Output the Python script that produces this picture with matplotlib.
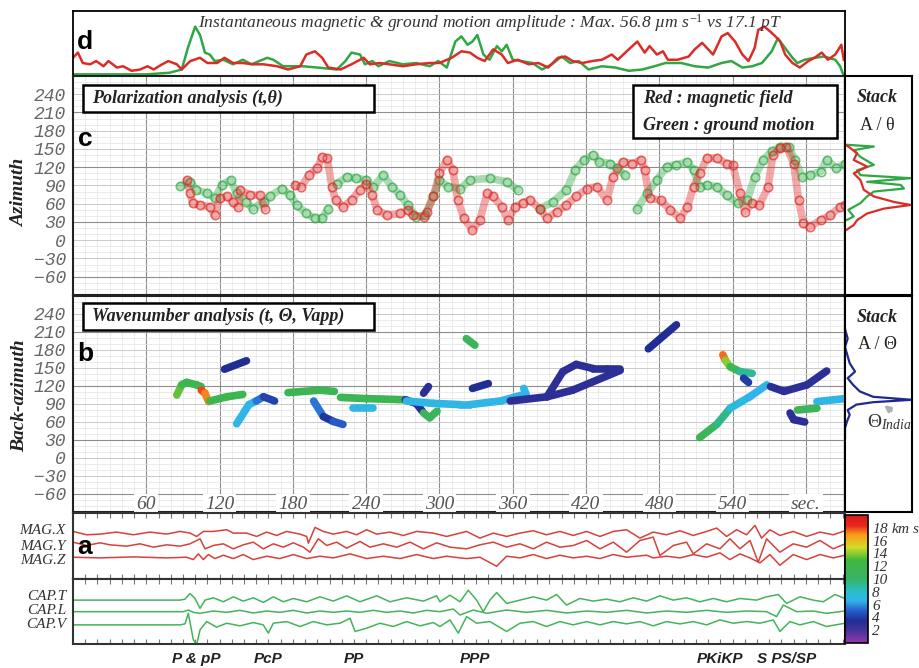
import numpy as np
import matplotlib
matplotlib.use('Agg')
import matplotlib.pyplot as plt
from matplotlib.collections import LineCollection
from matplotlib.colors import LinearSegmentedColormap, Normalize
from matplotlib.patches import Rectangle
from matplotlib.transforms import blended_transform_factory
import matplotlib.colorbar as mcolorbar

plt.rcParams['mathtext.fontset'] = 'custom'
plt.rcParams['mathtext.rm'] = 'Liberation Serif'
plt.rcParams['mathtext.it'] = 'Liberation Serif:italic'
plt.rcParams['mathtext.bf'] = 'Liberation Serif:bold'
SERIF = 'Liberation Serif'
SANS = 'Liberation Sans'

T_MAX = 632

# ---- panel d : instantaneous amplitude (normalised) ----
d_green_t = [0, 60, 79, 89, 94, 100, 104, 108, 112, 116, 123, 131, 139, 146, 159, 164, 172, 188, 200, 216,
             223, 228, 235, 239, 245, 250, 259, 270, 281, 292, 299, 306, 313, 318, 323, 327, 331, 336, 341, 347,
             351, 355, 360, 367, 376, 384, 392, 400, 407, 414, 422, 433, 444, 455, 466, 476, 485, 498, 509, 520,
             531, 539, 548, 556, 564, 572, 577, 583, 589, 593, 599, 607, 615, 624, 628, 631]
d_green = [0.025, 0.025, 0.05, 0.1, 0.43, 0.76, 0.63, 0.36, 0.33, 0.23, 0.25, 0.18, 0.25, 0.18, 0.28, 0.25, 0.15, 0.15, 0.13, 0.1,
           0.23, 0.36, 0.33, 0.18, 0.23, 0.15, 0.23, 0.18, 0.2, 0.15, 0.23, 0.13, 0.53, 0.61, 0.48, 0.53, 0.63, 0.33, 0.25, 0.46,
           0.38, 0.48, 0.25, 0.23, 0.2, 0.1, 0.18, 0.3, 0.2, 0.23, 0.1, 0.15, 0.13, 0.08, 0.1, 0.15, 0.2, 0.2, 0.15, 0.13,
           0.2, 0.23, 0.13, 0.15, 0.2, 0.38, 0.58, 0.43, 0.28, 0.2, 0.25, 0.28, 0.3, 0.25, 0.15, 0.0]
d_red_t = [0, 4, 8, 14, 19, 25, 29, 36, 41, 48, 55, 61, 66, 73, 78, 85, 89, 96, 104, 110,
           118, 124, 131, 139, 147, 156, 167, 176, 186, 191, 198, 204, 209, 219, 228, 238, 243, 251, 259, 270,
           281, 292, 300, 310, 318, 325, 331, 337, 344, 351, 356, 364, 373, 381, 389, 397, 403, 409, 417, 425,
           433, 441, 446, 455, 462, 468, 472, 478, 483, 487, 495, 504, 509, 515, 520, 524, 531, 536, 542, 548,
           553, 558, 561, 566, 571, 575, 579, 583, 589, 595, 602, 607, 613, 618, 624, 629, 631]
d_red = [0.28, 0.36, 0.2, 0.18, 0.23, 0.15, 0.23, 0.13, 0.15, 0.08, 0.1, 0.15, 0.1, 0.18, 0.23, 0.18, 0.1, 0.23, 0.28, 0.2,
         0.2, 0.28, 0.2, 0.2, 0.18, 0.18, 0.15, 0.1, 0.15, 0.33, 0.38, 0.28, 0.13, 0.1, 0.18, 0.28, 0.18, 0.2, 0.18, 0.15,
         0.18, 0.2, 0.2, 0.28, 0.38, 0.36, 0.28, 0.23, 0.41, 0.33, 0.2, 0.25, 0.18, 0.2, 0.13, 0.28, 0.3, 0.23, 0.2, 0.23,
         0.25, 0.33, 0.25, 0.41, 0.53, 0.36, 0.46, 0.33, 0.38, 0.25, 0.25, 0.3, 0.41, 0.51, 0.41, 0.33, 0.61, 0.66, 0.53, 0.33,
         0.23, 0.43, 0.71, 0.76, 0.68, 0.61, 0.53, 0.33, 0.2, 0.13, 0.23, 0.28, 0.36, 0.25, 0.33, 0.48, 0.25]

# ---- panel c : polarization azimuth (segments separated by gaps) ----
c_green_t = [[88, 96, 101, 110, 116, 122, 129, 134, 142, 147, 156, 161, 171, 178, 183, 191, 198, 204, 209],
             [216, 224, 232, 240, 246, 254, 261, 268, 274, 281, 288, 295, 300, 307, 317, 325, 341, 355, 364],
             [382, 393, 404, 411, 418, 426, 431, 440, 445, 452],
             [462, 470, 478, 486, 494, 503, 508, 513, 519, 527, 535, 544, 552, 558, 565, 572, 579, 586, 591, 597,
              603, 612, 617, 625, 632]]
c_green_az = [[89, 96, 83, 77, 69, 91, 99, 77, 63, 52, 63, 72, 85, 74, 58, 44, 36, 36, 52],
              [93, 104, 102, 99, 88, 107, 88, 74, 58, 39, 41, 72, 99, 88, 85, 99, 102, 96, 83],
              [52, 63, 83, 115, 132, 140, 129, 126, 118, 107],
              [52, 77, 99, 121, 124, 129, 115, 88, 91, 88, 74, 61, 66, 104, 132, 146, 154, 154, 132, 104,
               107, 113, 132, 118, 126]]
c_red_t = [[93, 96, 98, 104, 112, 116, 120, 126, 131, 135, 137, 145, 153, 157],
           [182, 187, 193, 200, 204, 208, 212, 215, 221, 228, 235, 240, 245, 249, 257, 268, 274, 278, 287, 290,
            295, 300, 306, 311, 315, 320, 327, 333, 339, 344, 351, 356, 362, 368, 374, 382, 388, 396, 404, 412,
            421, 429, 437, 442, 450, 458, 465, 468, 472, 481, 489, 497, 503, 508, 513, 519, 527, 535, 540, 546,
            550, 556, 562, 569, 573, 579, 584, 590, 594, 598, 603, 612, 620, 628, 632]]
c_red_az = [[99, 77, 61, 58, 55, 41, 69, 72, 63, 55, 83, 74, 74, 52],
            [91, 88, 107, 118, 137, 135, 88, 66, 55, 66, 83, 93, 74, 50, 41, 44, 50, 41, 39, 47,
             72, 110, 132, 115, 66, 36, 17, 33, 77, 72, 55, 33, 55, 61, 66, 52, 36, 47, 58, 72,
             85, 88, 66, 104, 129, 126, 132, 115, 69, 66, 50, 36, 55, 88, 110, 135, 135, 126, 124, 77,
             47, 61, 58, 88, 140, 151, 154, 126, 66, 28, 22, 33, 41, 55, 58]]

# stacks of panel c (amplitude vs azimuth)
cs_green_az = [157, 154, 148, 137, 124, 115, 107, 102, 96, 91, 85, 80, 72, 61, 50, 39, 33]
cs_green_amp = [0.02, 0.43, 0.13, 0.23, 0.43, 0.18, 0.23, 0.98, 0.33, 0.83, 0.88, 0.43, 0.33, 0.23, 0.05, 0.13, 0.02]
cs_red_az = [156, 154, 143, 132, 121, 110, 99, 83, 72, 63, 58, 52, 44, 33, 25, 17]
cs_red_amp = [0.02, 0.05, 0.18, 0.13, 0.33, 0.13, 0.23, 0.28, 0.43, 0.73, 0.98, 0.58, 0.33, 0.18, 0.13, 0.02]

# ---- panel b : wavenumber back-azimuth tracks, coloured by apparent velocity (km/s) ----
b_t = [[85, 89, 93, 101, 105], [105, 108, 111], [112, 126, 139], [124, 142], [134, 144, 150, 156, 165],
       [176, 202, 214], [197, 205, 213, 221], [219, 240, 273], [229, 246], [272, 281, 286], [287, 291],
       [287, 292, 298], [273, 295, 317, 325, 350, 368], [369, 371], [322, 329], [327, 340],
       [358, 388, 409, 448], [388, 401, 412, 426, 437, 448], [471, 494], [532, 534, 538, 546, 556],
       [549, 553], [513, 527, 538, 554, 568], [571, 582, 601, 617], [609, 632], [593, 609], [587, 590, 599]]
b_az = [[105, 122, 126, 122, 119], [113, 108, 94], [95, 102, 106], [148, 162], [57, 89, 95, 102, 95],
        [109, 113, 111], [95, 69, 61, 56], [101, 99, 97], [84, 84], [97, 91, 78], [108, 119],
        [75, 67, 78], [95, 91, 89, 89, 95, 105], [116, 106], [199, 188], [116, 124],
        [95, 102, 113, 146], [102, 144, 156, 149, 149, 149], [182, 222], [172, 163, 152, 144, 141],
        [133, 126], [34, 56, 83, 102, 122], [119, 111, 122, 145], [94, 99], [80, 83], [75, 64, 60]]
b_v = [[15, 12, 12, 12, 12], [17, 19, 15.5], [12, 12, 12], [3.5, 3.5], [7, 7, 6.5, 4.5, 4],
       [11.5, 11.5, 11.5], [7, 4, 3.5, 6.5], [11.5, 11.5, 11.5], [7, 7], [3, 3, 3.5], [3, 3],
       [11, 11, 10.5], [7, 7, 7, 7, 7, 7], [7, 7], [11, 11], [3.5, 3.5],
       [3, 3, 3, 3], [3, 3, 3, 3, 3, 3], [3.5, 3.5], [19, 16, 12, 11, 7],
       [4, 4], [11.5, 11, 7.5, 7, 6.5], [3, 3, 3, 3], [7, 7], [11, 11], [3, 3, 3]]

bs_az = [215, 199, 185, 158, 144, 133, 122, 111, 102, 97, 93, 89, 80, 72, 61, 50, 34]
bs_amp = [0.0, 0.04, 0.0, 0.07, 0.15, 0.04, 0.12, 0.22, 0.42, 1.0, 0.42, 0.17, 0.04, 0.07, 0.03, 0.0, 0.0]
theta_india = 97

# ---- panel a : waveforms (arbitrary units, larger = lower on the trace) ----
magx_t = [0, 11.2, 22.1, 35.7, 49.4, 63.0, 76.7, 87.6, 95.8, 101.2, 106.7, 114.9, 125.8, 131.2, 142.2, 150.3, 158.5,
          166.7, 174.9, 185.8, 191.3, 192.7, 198.1, 204.9, 213.1, 224.0, 232.2, 240.4, 248.6, 259.5, 270.4, 281.3,
          295.0, 305.9, 316.8, 322.2, 333.1, 344.1, 355.0, 365.9, 376.8, 387.7, 398.6, 409.5, 420.5, 431.4, 442.3,
          453.2, 464.1, 475.0, 485.9, 496.9, 507.8, 518.7, 526.9, 535.1, 543.3, 551.4, 558.3, 563.7, 570.5, 578.7,
          589.6, 600.6, 611.5, 622.4, 632.0]
magx = [80, 90, 88, 82, 90, 82, 88, 80, 85, 95, 80, 80, 75, 85, 85, 95, 82, 92, 80, 88, 95, 115, 68, 80, 88, 80, 90,
        75, 88, 82, 92, 80, 85, 95, 85, 80, 100, 85, 95, 85, 78, 90, 80, 92, 80, 95, 80, 75, 100, 82, 90, 78, 92, 80,
        70, 95, 75, 90, 62, 100, 75, 92, 80, 95, 82, 90, 78]
magy_t = [0, 11.2, 22.1, 30.3, 43.9, 54.8, 65.8, 76.7, 87.6, 95.8, 104.0, 108.1, 114.9, 123.1, 131.2, 139.4, 147.6,
          155.8, 164.0, 172.2, 180.4, 188.6, 194.0, 200.8, 207.7, 215.8, 224.0, 234.9, 243.1, 254.1, 265.0, 275.9,
          286.8, 297.7, 308.6, 322.2, 333.1, 344.1, 355.0, 365.9, 376.8, 387.7, 398.6, 409.5, 420.5, 431.4, 442.3,
          453.2, 464.1, 475.0, 480.5, 491.4, 502.3, 507.8, 518.7, 529.6, 537.8, 546.0, 554.2, 561.0, 567.8, 578.7,
          589.6, 600.6, 611.5, 622.4, 632.0]
magy = [110, 120, 112, 118, 122, 115, 125, 118, 122, 115, 100, 130, 120, 115, 130, 118, 110, 130, 115, 125, 112, 125,
        140, 100, 120, 110, 128, 108, 125, 115, 125, 110, 130, 112, 125, 130, 118, 110, 125, 115, 130, 110, 125, 120,
        105, 130, 110, 140, 105, 95, 150, 120, 110, 145, 115, 130, 100, 130, 105, 170, 100, 140, 115, 125, 105, 130, 115]
magz_t = [0, 22.1, 49.4, 76.7, 93.0, 98.5, 102.6, 106.7, 110.8, 116.2, 123.1, 131.2, 139.4, 147.6, 158.5, 169.4, 180.4,
          191.3, 202.2, 213.1, 226.8, 240.4, 254.1, 267.7, 281.3, 295.0, 305.9, 316.8, 322.2, 333.1, 346.8, 355.0,
          365.9, 376.8, 387.7, 398.6, 409.5, 420.5, 431.4, 442.3, 453.2, 469.6, 475.0, 485.9, 496.9, 507.8, 518.7,
          529.6, 537.8, 546.0, 554.2, 562.4, 570.5, 578.7, 589.6, 600.6, 611.5, 622.4, 632.0]
magz = [158, 160, 157, 160, 158, 165, 148, 165, 150, 162, 152, 162, 150, 165, 155, 162, 150, 162, 155, 160, 148, 162,
        155, 162, 150, 162, 155, 160, 162, 158, 185, 155, 160, 150, 162, 152, 160, 155, 162, 150, 158, 152, 160, 155,
        160, 150, 158, 145, 165, 148, 160, 175, 150, 182, 150, 165, 150, 160, 152]
capt_t = [0, 87.6, 91.7, 95.8, 99.9, 104.0, 108.1, 114.9, 123.1, 131.2, 139.4, 147.6, 155.8, 164.0, 172.2, 180.4, 191.3,
          202.2, 213.1, 224.0, 234.9, 248.6, 259.5, 273.1, 286.8, 297.7, 300.4, 308.6, 316.8, 323.6, 330.4, 335.9,
          341.3, 346.8, 355.0, 365.9, 376.8, 387.7, 395.9, 404.1, 415.0, 425.9, 436.8, 447.7, 458.7, 469.6, 480.5,
          491.4, 502.3, 513.2, 524.2, 535.1, 546.0, 559.6, 567.8, 577.4, 584.2, 595.1, 606.0, 614.2, 623.8, 632.0]
capt = [285, 285, 282, 265, 280, 310, 285, 278, 290, 275, 288, 278, 292, 275, 290, 280, 290, 275, 288, 272, 290, 272,
        290, 278, 288, 272, 290, 270, 290, 255, 285, 320, 285, 262, 295, 285, 275, 285, 268, 300, 280, 288, 282, 290,
        278, 288, 272, 285, 278, 290, 280, 290, 280, 285, 275, 268, 295, 275, 285, 290, 268, 280]
capl_t = [0, 90.3, 94.4, 98.5, 104.0, 114.9, 125.8, 136.7, 147.6, 158.5, 169.4, 180.4, 191.3, 202.2, 213.1, 224.0,
          234.9, 245.8, 256.8, 267.7, 278.6, 289.5, 300.4, 311.3, 316.8, 327.7, 338.6, 355.0, 371.4, 387.7, 404.1,
          420.5, 436.8, 453.2, 469.6, 485.9, 502.3, 518.7, 535.1, 551.4, 567.8, 576.0, 581.5, 592.4, 606.0, 616.9, 632.0]
capl = [320, 320, 315, 322, 325, 318, 322, 316, 324, 318, 322, 316, 324, 318, 322, 318, 322, 316, 322, 318, 324, 316,
        320, 312, 330, 315, 325, 315, 322, 316, 324, 318, 322, 316, 324, 318, 322, 316, 322, 318, 320, 335, 300, 320,
        318, 325, 318]
capv_t = [0, 87.6, 91.7, 94.4, 98.5, 101.2, 104.0, 109.4, 117.6, 125.8, 136.7, 147.6, 155.8, 159.9, 164.0, 174.9, 185.8,
          196.7, 207.7, 218.6, 226.8, 230.9, 240.4, 251.3, 262.2, 273.1, 284.1, 295.0, 300.4, 308.6, 315.4, 322.2,
          330.4, 341.3, 355.0, 365.9, 376.8, 387.7, 398.6, 409.5, 420.5, 431.4, 442.3, 453.2, 464.1, 475.0, 485.9,
          496.9, 507.8, 518.7, 529.6, 540.5, 551.4, 562.4, 573.3, 578.7, 586.9, 595.1, 606.0, 616.9, 632.0]
capv = [355, 355, 352, 320, 400, 415, 370, 345, 362, 350, 358, 348, 355, 380, 350, 345, 360, 345, 355, 350, 335, 375,
        365, 350, 360, 345, 358, 348, 360, 340, 380, 330, 350, 345, 375, 350, 345, 360, 345, 355, 345, 355, 345, 352,
        345, 358, 345, 352, 345, 355, 340, 350, 345, 350, 340, 375, 345, 355, 345, 360, 350]

mag_names = ['MAG.X', 'MAG.Y', 'MAG.Z']
cap_names = ['CAP.T', 'CAP.L', 'CAP.V']
phase_names = ['P & pP', 'PcP', 'PP', 'PPP', 'PKiKP', 'S PS/SP']
phase_times = [101, 160, 230, 329, 530, 584]

RED = '#dc2c28'
GREEN = '#2fa844'
NAVY = '#1f2a8f'

vel_cmap = LinearSegmentedColormap.from_list('vel', [
    (0.0, (0.58, 0.22, 0.68)), (0.1, (0.27, 0.2, 0.6)), (0.175, (0.12, 0.18, 0.58)),
    (0.25, (0.15, 0.35, 0.78)), (0.33, (0.2, 0.7, 0.93)), (0.4, (0.15, 0.75, 0.8)),
    (0.5, (0.22, 0.7, 0.4)), (0.65, (0.25, 0.72, 0.25)), (0.75, (0.82, 0.86, 0.15)),
    (0.85, (0.98, 0.6, 0.1)), (0.92, (0.92, 0.15, 0.1)), (1.0, (0.85, 0.1, 0.1))])
vnorm = Normalize(0, 20)


def join(segs):
    out = []
    for s in segs:
        out += list(s) + [np.nan]
    return np.array(out[:-1], dtype=float)


W, H = 919, 668
fig = plt.figure(figsize=(W / 100, H / 100), dpi=100)


def box(x0, y0, x1, y1):
    return [x0 / W, 1 - y1 / H, (x1 - x0) / W, (y1 - y0) / H]


ax_d = fig.add_axes(box(73, 11, 845, 76))
ax_c = fig.add_axes(box(73, 76, 845, 295))
ax_cs = fig.add_axes(box(845, 76, 912, 295))
ax_b = fig.add_axes(box(73, 296, 845, 512))
ax_bs = fig.add_axes(box(845, 296, 912, 512))
ax_mag = fig.add_axes(box(73, 513, 845, 579))
ax_cap = fig.add_axes(box(73, 579, 845, 644))
cax = fig.add_axes(box(845, 515, 868, 643))

# panel d
ax_d.plot(d_green_t, d_green, color=GREEN, lw=1.8)
ax_d.plot(d_red_t, d_red, color=RED, lw=1.8)
ax_d.set_xlim(0, T_MAX)
ax_d.set_ylim(0, 1)
ax_d.set_xticks([])
ax_d.set_yticks([])
for s in ax_d.spines.values():
    s.set_linewidth(1.3)
ax_d.text(0.162, 0.82, 'Instantaneous magnetic & ground motion amplitude : Max. 56.8 µm $s^{-1}$ vs 17.1 pT',
          transform=ax_d.transAxes, family=SERIF, style='italic', size=12.6, color='#333333', va='center')


def style_grid(ax):
    ax.set_xlim(0, T_MAX)
    ax.set_ylim(-90, 270)
    ax.set_xticks(np.arange(60, T_MAX, 60))
    ax.set_xticks(np.arange(0, T_MAX, 10), minor=True)
    ax.set_yticks(np.arange(-60, 241, 30))
    ax.set_yticks(np.arange(-90, 271, 10), minor=True)
    ax.set_axisbelow(True)
    ax.grid(which='minor', color='#e3e3e3', lw=0.5)
    ax.grid(which='major', axis='y', color='#c9c9c9', lw=0.7)
    ax.grid(which='major', axis='x', color='#8e8e8e', lw=0.8)
    for a in (-60, 30, 120, 210):
        ax.axhline(a, color='#8e8e8e', lw=0.8, zorder=0.6)
    ax.tick_params(which='both', length=0, pad=5)
    ax.set_xticklabels([])
    ax.set_yticklabels([str(v).replace('-', '\u2212') for v in range(-60, 241, 30)],
                       family='Liberation Mono', style='italic', size=13, color='#666666')
    for s in ax.spines.values():
        s.set_linewidth(1.5)
        s.set_color('#222222')


style_grid(ax_c)
style_grid(ax_b)

# panel c scatter: a translucent band under open circles
for ts, azs, col in [(c_green_t, c_green_az, GREEN), (c_red_t, c_red_az, RED)]:
    tt, aa = join(ts), join(azs)
    ax_c.plot(tt, aa, color=col, lw=5.5, alpha=0.4, solid_capstyle='round', solid_joinstyle='round', zorder=3)
    ax_c.plot(tt, aa, 'o', ms=6, mfc='none', mec=col, mew=1.2, alpha=0.7, zorder=3)

ax_c.add_patch(Rectangle((0.013, 0.836), 0.377, 0.123, transform=ax_c.transAxes, fc='white', ec='black',
                         lw=1.8, zorder=5))
ax_c.text(0.025, 0.897, 'Polarization analysis (t,θ)', transform=ax_c.transAxes, family=SERIF,
          weight='bold', style='italic', size=13, va='center', zorder=6, color='#222222')
ax_c.add_patch(Rectangle((0.725, 0.717), 0.265, 0.242, transform=ax_c.transAxes, fc='white', ec='black',
                         lw=1.8, zorder=5))
ax_c.text(0.738, 0.895, 'Red : magnetic field', transform=ax_c.transAxes, family=SERIF,
          weight='bold', style='italic', size=13, va='center', zorder=6, color='#222222')
ax_c.text(0.738, 0.776, 'Green : ground motion', transform=ax_c.transAxes, family=SERIF,
          weight='bold', style='italic', size=13, va='center', zorder=6, color='#222222')

# panel b tracks
segs, cols = [], []
for ts, azs, vs in zip(b_t, b_az, b_v):
    for i in range(len(ts) - 1):
        segs.append([(ts[i], azs[i]), (ts[i + 1], azs[i + 1])])
        cols.append(vel_cmap(vnorm((vs[i] + vs[i + 1]) / 2)))
lc = LineCollection(segs, colors=cols, linewidths=5.5, capstyle='round', joinstyle='round', zorder=3)
ax_b.add_collection(lc)

ax_b.add_patch(Rectangle((0.013, 0.843), 0.377, 0.125, transform=ax_b.transAxes, fc='white', ec='black',
                         lw=1.8, zorder=5))
ax_b.text(0.025, 0.905, 'Wavenumber analysis (t, Θ, Vapp)', transform=ax_b.transAxes, family=SERIF,
          weight='bold', style='italic', size=13, va='center', zorder=6, color='#222222')
for t in range(60, 600, 60):
    ax_b.text(t, -77, str(t), family=SERIF, style='italic', size=14, color='#555555', ha='center', va='center',
              zorder=4, bbox=dict(fc='white', ec='none', pad=1.5))
ax_b.text(600, -77, 'sec.', family=SERIF, style='italic', size=14, color='#555555', ha='center', va='center',
          zorder=4, bbox=dict(fc='white', ec='none', pad=1.5))

# stacks
for ax in (ax_cs, ax_bs):
    ax.set_xlim(0, 1.0)
    ax.set_ylim(-90, 270)
    ax.set_xticks([])
    ax.set_yticks([])
    for s in ax.spines.values():
        s.set_linewidth(1.5)
ax_cs.plot(cs_green_amp, cs_green_az, color=GREEN, lw=1.6)
ax_cs.plot(cs_red_amp, cs_red_az, color=RED, lw=1.6)
ax_bs.plot(bs_amp, bs_az, color=NAVY, lw=1.6)
for ax, sym in ((ax_cs, 'θ'), (ax_bs, 'Θ')):
    ax.text(0.48, 0.9, 'Stack', transform=ax.transAxes, family=SERIF, weight='bold', style='italic',
            size=13, ha='center', va='center', color='#222222')
    ax.text(0.48, 0.775, 'A / ' + sym, transform=ax.transAxes, family=SERIF, size=13, ha='center',
            va='center', color='#222222')
ax_bs.annotate('', xy=(0.55, theta_india - 6), xytext=(0.72, theta_india - 21),
               arrowprops=dict(arrowstyle='-|>', color='#b0b0b0', lw=2.2, mutation_scale=8))
ax_bs.text(0.66, 59, r'$\Theta_{India}$', family=SERIF, size=14, ha='center', va='center', color='#333333')

# panel a traces
TR_RED = '#d8403c'
TR_GREEN = '#43b45a'
for ax, ts, ys, offs, col in [
        (ax_mag, [magx_t, magy_t, magz_t], [magx, magy, magz], [137, 102, 65], TR_RED),
        (ax_cap, [capt_t, capl_t, capv_t], [capt, capl, capv], [133, 98, 63], TR_GREEN)]:
    for t, y, off in zip(ts, ys, offs):
        y = np.array(y, dtype=float)
        ax.plot(t, off - (y - np.median(y)), color=col, lw=1.1)
    ax.set_xlim(0, T_MAX)
    ax.set_ylim(0, 197)
    ax.set_xticks(np.arange(10, T_MAX, 10))
    ax.set_yticks([])
    ax.tick_params(axis='x', direction='in', length=3.5, top=True, bottom=True,
                   labelbottom=False, color='#777777')
    for s in ax.spines.values():
        s.set_linewidth(1.5)
        s.set_color('#333333')

for name, y in zip(mag_names + cap_names, [531, 546, 560, 596, 611, 625]):
    fig.text(66 / W, 1 - y / H, name, family=SERIF, style='italic', size=11, color='#333333',
             ha='right', va='center')

tr = blended_transform_factory(ax_cap.transData, ax_cap.transAxes)
for name, t in zip(phase_names, phase_times):
    ax_cap.text(t, -0.23, name, transform=tr, family=SANS, weight='bold', style='italic', size=11,
                ha='center', va='center', color='#222222')

# colour bar
cb = mcolorbar.ColorbarBase(cax, cmap=vel_cmap, norm=vnorm, ticks=list(range(2, 19, 2)))
cb.set_ticklabels([str(v) for v in range(2, 17, 2)] + ['18 km $s^{-1}$'])
cb.outline.set_linewidth(1.2)
cax.tick_params(length=0, pad=3)
for lab in cax.get_yticklabels():
    lab.set_family(SERIF)
    lab.set_style('italic')
    lab.set_size(11)
    lab.set_color('#333333')

# axis titles and panel letters
fig.text(20 / W, 1 - 193 / H, 'Azimuth', rotation=90, family=SERIF, weight='bold', style='italic',
         size=14, ha='center', va='center', color='#222222')
fig.text(20 / W, 1 - 396 / H, 'Back-azimuth', rotation=90, family=SERIF, weight='bold', style='italic',
         size=14, ha='center', va='center', color='#222222')
for letter, y in (('d', 42), ('c', 139), ('b', 354), ('a', 547)):
    fig.text(85 / W, 1 - y / H, letter, family=SANS, weight='bold', size=19, ha='center', va='center',
             color='black', zorder=10)

fig.savefig('out.png', dpi=100)
